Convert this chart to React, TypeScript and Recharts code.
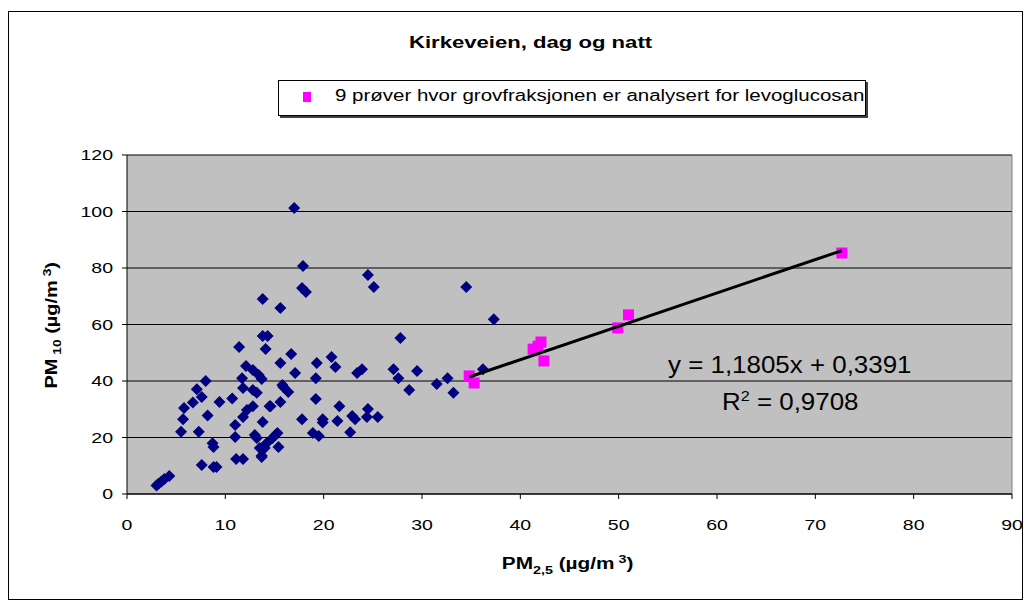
import { ScatterChart, Scatter, XAxis, YAxis, CartesianGrid, ReferenceLine } from "recharts"

// PM2.5 / PM10 pairs, all samples (navy)
const allX = [3.0, 3.2, 3.5, 3.8, 4.3, 5.5, 5.7, 5.8, 6.7, 7.1, 7.6, 8.0, 7.3, 8.2, 9.4, 10.7, 8.7, 8.8, 7.6, 8.8, 9.1, 11.1, 11.8, 11.0, 11.0, 11.8, 12.2, 12.8, 13.0, 13.2, 13.8, 14.6, 15.6, 13.7, 13.5, 14.2, 14.8, 15.3, 15.4, 11.4, 12.1, 12.8, 13.4, 13.7, 11.7, 11.8, 12.8, 13.2, 13.8, 14.3, 14.1, 13.8, 15.6, 17.0, 17.9, 17.8, 18.2, 15.6, 16.7, 17.1, 15.9, 16.4, 17.8, 19.3, 19.2, 19.2, 18.9, 19.5, 19.9, 19.9, 21.4, 20.8, 21.2, 21.6, 22.7, 22.9, 23.2, 23.4, 23.9, 24.5, 25.1, 24.5, 24.4, 25.5, 27.1, 27.6, 27.8, 28.7, 29.5, 31.5, 32.6, 33.2, 34.5, 37.3, 36.2, 14.5, 15.1, 14.0, 13.7, 15.8]
const allY = [3.0, 3.6, 4.4, 5.3, 6.4, 22.0, 26.5, 30.4, 32.4, 37.1, 34.3, 40.0, 22.0, 27.8, 32.6, 33.8, 18.0, 16.6, 10.3, 9.6, 9.6, 12.4, 12.4, 24.4, 20.2, 27.3, 29.7, 31.1, 20.9, 19.8, 25.5, 31.1, 32.6, 13.1, 16.3, 18.0, 19.8, 21.6, 16.6, 52.0, 45.3, 43.9, 42.1, 40.7, 41.0, 37.5, 36.8, 35.8, 55.9, 55.9, 51.3, 69.0, 65.8, 101.2, 80.7, 72.9, 71.5, 46.4, 49.6, 42.8, 37.9, 36.1, 26.5, 46.4, 41.0, 33.6, 21.6, 20.5, 26.5, 25.3, 25.8, 48.5, 45.0, 31.1, 21.9, 27.6, 26.5, 42.8, 44.2, 77.5, 73.3, 30.1, 27.3, 27.3, 44.2, 41.0, 55.2, 36.8, 43.5, 38.9, 41.0, 35.8, 73.3, 61.9, 44.2, 31.1, 20.9, 16.3, 13.5, 38.6]

// 9 samples where coarse fraction was analysed for levoglucosan (magenta)
const levoX = [34.8, 35.3, 41.3, 41.8, 42.1, 42.4, 49.9, 51.0, 72.7]
const levoY = [41.8, 39.3, 51.3, 52.3, 53.8, 47.1, 58.8, 63.4, 85.3]

const xTicks = [0, 10, 20, 30, 40, 50, 60, 70, 80, 90]
const yTicks = [0, 20, 40, 60, 80, 100, 120]

const slope = 1.1805
const intercept = 0.3391

const allData = allX.map((x, i) => ({ x, y: allY[i] }))
const levoData = levoX.map((x, i) => ({ x, y: levoY[i] }))
const trendX = [Math.min(...levoX), Math.max(...levoX)]
const trendData = trendX.map((x) => ({ x, y: slope * x + intercept }))

const font = "'Liberation Sans', Arial, sans-serif"

function Diamond(props: any) {
    const { cx, cy } = props
    const r = 6
    return <polygon points={`${cx},${cy - r} ${cx + r},${cy} ${cx},${cy + r} ${cx - r},${cy}`} fill="#000080" />
}

function Square(props: any) {
    const { cx, cy } = props
    return <rect x={cx - 5.5} y={cy - 5.5} width={11} height={11} fill="#FF00FF" />
}

function NoDot() {
    return <g />
}

function XTick(props: any) {
    const { x, y, payload } = props
    return (
        <g transform={`translate(${x},${y})`}>
            <text transform="scale(1.3,1)" textAnchor="middle" dy="0.71em" fontSize={15} fontFamily={font} fill="#000">
                {payload.value}
            </text>
        </g>
    )
}

function YTick(props: any) {
    const { x, y, payload } = props
    return (
        <g transform={`translate(${x},${y})`}>
            <text transform="scale(1.3,1)" textAnchor="end" dy="0.355em" fontSize={15} fontFamily={font} fill="#000">
                {payload.value}
            </text>
        </g>
    )
}

const stretch = { transform: "scaleX(1.3)", transformOrigin: "center", whiteSpace: "nowrap" as const }

export default function App() {
    return (
        <div style={{ position: "relative", width: 1013, height: 587, border: "1px solid #000", marginTop: 3, background: "#fff", fontFamily: font }}>
            <ScatterChart width={1013} height={587} margin={{ top: 143, right: 10, bottom: 75, left: 58 }}>
                <CartesianGrid vertical={false} stroke="#000" fill="#C0C0C0" fillOpacity={1} />
                <XAxis
                    type="number"
                    dataKey="x"
                    domain={[0, 90]}
                    ticks={xTicks}
                    height={30}
                    tick={<XTick />}
                    tickSize={5}
                    tickMargin={20}
                    axisLine={{ stroke: "#000" }}
                    tickLine={{ stroke: "#000" }}
                    interval={0}
                />
                <YAxis
                    type="number"
                    dataKey="y"
                    domain={[0, 120]}
                    ticks={yTicks}
                    width={60}
                    tick={<YTick />}
                    tickSize={5}
                    tickMargin={9}
                    axisLine={{ stroke: "#000" }}
                    tickLine={{ stroke: "#000" }}
                    interval={0}
                />
                <ReferenceLine x={90} stroke="#808080" />
                <Scatter name="Alle prøver" data={allData} shape={<Diamond />} isAnimationActive={false} />
                <Scatter name="9 prøver hvor grovfraksjonen er analysert for levoglucosan" data={levoData} shape={<Square />} isAnimationActive={false} />
                <Scatter name="Trend" data={trendData} line={{ stroke: "#000", strokeWidth: 3 }} shape={<NoDot />} isAnimationActive={false} />
            </ScatterChart>

            <div style={{ position: "absolute", left: 0, width: 1043, top: 21, textAlign: "center", fontWeight: "bold", fontSize: 17 }}>
                <span style={{ display: "inline-block", ...stretch }}>Kirkeveien, dag og natt</span>
            </div>

            <div style={{ position: "absolute", left: 269, top: 68, width: 586, height: 34, border: "1px solid #000", background: "#fff", boxShadow: "2px 2px 0 #404040" }}>
                <div style={{ position: "absolute", left: 24, top: 11, width: 8, height: 10, background: "#FF00FF" }} />
                <div style={{ position: "absolute", left: 56, top: 6, fontSize: 16, transform: "scaleX(1.28)", transformOrigin: "left center", whiteSpace: "nowrap" }}>
                    9 prøver hvor grovfraksjonen er analysert for levoglucosan
                </div>
            </div>

            <div style={{ position: "absolute", left: 0, width: 1117, top: 541, textAlign: "center", fontWeight: "bold", fontSize: 16 }}>
                <span style={{ display: "inline-block", ...stretch }}>
                    PM<sub style={{ fontSize: 11 }}>2,5</sub> (µg/m<sup style={{ fontSize: 11 }}> 3</sup>)
                </span>
            </div>

            <div style={{ position: "absolute", left: 43, top: 313, width: 0, height: 0 }}>
                <div style={{ position: "absolute", left: -100, top: -11, width: 200, textAlign: "center", fontWeight: "bold", fontSize: 16, transform: "rotate(-90deg) scaleX(1.25)", whiteSpace: "nowrap" }}>
                    PM<sub style={{ fontSize: 11 }}> 10</sub> (µg/m<sup style={{ fontSize: 11 }}> 3</sup>)
                </div>
            </div>

            <div style={{ position: "absolute", left: 581, width: 400, top: 339, textAlign: "center", fontSize: 24 }}>
                <span style={{ display: "inline-block", whiteSpace: "nowrap", transform: "scaleX(1.08)" }}>y = 1,1805x + 0,3391</span>
            </div>
            <div style={{ position: "absolute", left: 581, width: 400, top: 375, textAlign: "center", fontSize: 24 }}>
                <span style={{ display: "inline-block", whiteSpace: "nowrap", transform: "scaleX(1.08)" }}>
                    R<sup style={{ fontSize: 15 }}>2</sup> = 0,9708
                </span>
            </div>
        </div>
    )
}
